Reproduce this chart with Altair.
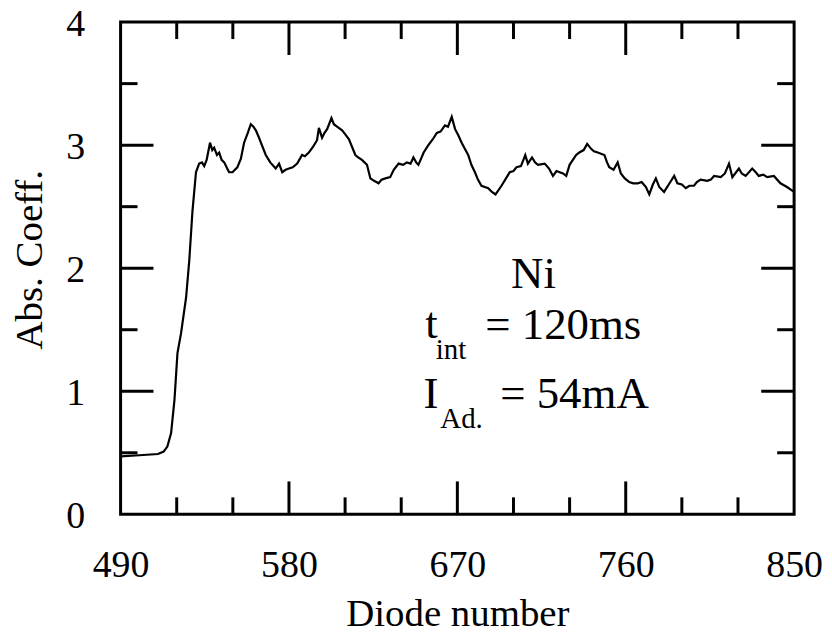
import altair as alt
import pandas as pd

# ---- data ----
diode = [490, 500, 510, 513, 515, 517, 518.8, 520.4, 522.3, 525, 526.7, 528.4, 530.3, 532, 533.5,
         534.7, 536, 537.8, 539, 540, 541.5, 542.7, 544, 545.4, 547, 548, 549.8, 552.4, 554.3, 556,
         558, 559.6, 561, 562.3, 564, 565, 567.6, 570, 572.9, 574.7, 576.4, 578.2, 580, 582, 584.4,
         587, 588.5, 590.6, 593, 595, 596, 597.7, 599, 600.4, 602.7, 604, 605.7, 608.4, 610, 612,
         615.5, 617, 619, 621.7, 623.5, 625.5, 627.9, 629.5, 631.5, 634.1, 636, 638.6, 641, 643, 645,
         646.5, 648, 649.2, 652, 654.5, 657, 659, 661, 663.4, 665, 667, 668.8, 670.5, 672.3, 674,
         675.8, 677.5, 679.4, 681, 682.9, 686.5, 688.5, 690.4, 693.6, 696, 698, 700, 701.6, 704,
         706.3, 707.7, 709.9, 711.5, 713.1, 716.7, 719, 721.1, 723, 724.7, 726.5, 728.2, 730, 733.5,
         735.2, 737.5, 739.4, 741.5, 743, 745, 748.6, 750, 751.2, 753.5, 755.7, 757.4, 759.5, 761.9,
         764, 766.4, 768.5, 770.8, 772.6, 774.5, 776.1, 777.9, 780.5, 783, 785.9, 787.6, 790, 792.1,
         794, 796.5, 798, 800, 803.6, 805.5, 807.2, 810.8, 813, 815.2, 817, 820.5, 822, 824.1, 827.6,
         829.5, 831.1, 833.5, 835.6, 839.2, 842.7, 846.2, 849, 850]
absorb = [0.47, 0.48, 0.49, 0.51, 0.55, 0.66, 0.93, 1.31, 1.47, 1.76, 2.06, 2.46, 2.78, 2.85, 2.86,
          2.83, 2.88, 3.02, 2.96, 2.98, 2.92, 2.94, 2.88, 2.86, 2.81, 2.78, 2.78, 2.82, 2.89, 3.02,
          3.10, 3.17, 3.15, 3.12, 3.06, 3.02, 2.92, 2.86, 2.81, 2.85, 2.78, 2.80, 2.81, 2.82, 2.85,
          2.92, 2.91, 2.94, 2.99, 3.04, 3.14, 3.06, 3.10, 3.13, 3.22, 3.17, 3.15, 3.12, 3.09, 3.05,
          2.92, 2.90, 2.88, 2.84, 2.73, 2.71, 2.69, 2.72, 2.73, 2.74, 2.80, 2.85, 2.84, 2.86, 2.85,
          2.90, 2.86, 2.84, 2.94, 3.00, 3.05, 3.10, 3.11, 3.16, 3.15, 3.23, 3.13, 3.08, 3.02, 2.97,
          2.92, 2.84, 2.78, 2.72, 2.67, 2.65, 2.62, 2.60, 2.67, 2.73, 2.78, 2.79, 2.82, 2.83,
          2.92, 2.85, 2.90, 2.86, 2.84, 2.85, 2.81, 2.75, 2.79, 2.78, 2.77, 2.75, 2.84, 2.92,
          2.94, 2.96, 3.01, 2.97, 2.95, 2.94, 2.92, 2.86, 2.82, 2.80, 2.86, 2.77, 2.73, 2.70,
          2.69, 2.69, 2.70, 2.66, 2.60, 2.68, 2.73, 2.66, 2.62, 2.68, 2.75, 2.69, 2.68, 2.65,
          2.67, 2.67, 2.70, 2.72, 2.71, 2.72, 2.75, 2.74, 2.77, 2.85, 2.74, 2.81, 2.77, 2.75, 2.81,
          2.78, 2.75, 2.76, 2.74, 2.75, 2.69, 2.66, 2.63, 2.62]

x_labels = [490, 580, 670, 760, 850]
y_labels = [0, 1, 2, 3, 4]
x_major = [580, 670, 760]
x_minor = [520, 550, 610, 640, 700, 730, 790, 820]
y_major = [1, 2, 3]
y_minor = [0.5, 1.5, 2.5, 3.5]

big_text = ["Ni", "t", "= 120ms", "I", "= 54mA"]
big_x = [698.7, 652.9, 684.9, 651.9, 692.9]
big_y = [1.84, 1.435, 1.427, 0.863, 0.863]
sub_text = ["int", "Ad."]
sub_x = [658.5, 660.9]
sub_y = [1.266, 0.70]

W, H = 676, 494
FONT = "Liberation Serif"
MAJ, MIN = 33, 17

xs = alt.Scale(domain=[490, 850], nice=False, zero=False)
ys = alt.Scale(domain=[0, 4], nice=False, zero=False)

x_axis = alt.Axis(
    values=x_labels, title="Diode number", domain=False, ticks=False, tickSize=0,
    grid=False, labelFont=FONT, labelFontSize=38, labelColor="black",
    labelPadding=62, labelBaseline="alphabetic", labelFlush=False, labelOverlap=False,
    titleFont=FONT, titleFontSize=39, titleFontWeight="normal", titleColor="black",
    titleBaseline="alphabetic", titleY=112)
y_axis = alt.Axis(
    values=y_labels, title="Abs. Coeff.", domain=False, ticks=False, tickSize=0,
    grid=False, labelFont=FONT, labelFontSize=38, labelColor="black",
    labelPadding=36, labelFlush=False, labelOverlap=False,
    labelBaseline="alphabetic", labelOffset=13,
    titleFont=FONT, titleFontSize=39, titleFontWeight="normal", titleColor="black",
    titleBaseline="alphabetic", titleAngle=270, titleAlign="center",
    titleX=-79, titleY=238)


def X(field):
    return alt.X(field, scale=xs, axis=x_axis, title="Diode number")


def Y(field):
    return alt.Y(field, scale=ys, axis=y_axis, title="Abs. Coeff.")


df = pd.DataFrame({"d": diode, "v": absorb})

line = alt.Chart(df).mark_line(color="black", strokeWidth=2.2).encode(
    x=X("d:Q"), y=Y("v:Q"))


def xticks(vals, length):
    base = alt.Chart(pd.DataFrame({"t": vals})).mark_rule(color="black", strokeWidth=3)
    bottom = base.encode(x=X("t:Q"), y=alt.value(H), y2=alt.value(H - length))
    top = base.encode(x=X("t:Q"), y=alt.value(0), y2=alt.value(length))
    return [bottom, top]


def yticks(vals, length):
    base = alt.Chart(pd.DataFrame({"t": vals})).mark_rule(color="black", strokeWidth=3)
    left = base.encode(y=Y("t:Q"), x=alt.value(0), x2=alt.value(length))
    right = base.encode(y=Y("t:Q"), x=alt.value(W), x2=alt.value(W - length))
    return [left, right]


big = alt.Chart(pd.DataFrame({"x": big_x, "y": big_y, "s": big_text})).mark_text(
    font=FONT, fontSize=45, align="left", baseline="alphabetic", color="black"
).encode(x=X("x:Q"), y=Y("y:Q"), text="s:N")

sub = alt.Chart(pd.DataFrame({"x": sub_x, "y": sub_y, "s": sub_text})).mark_text(
    font=FONT, fontSize=29, align="left", baseline="alphabetic", color="black"
).encode(x=X("x:Q"), y=Y("y:Q"), text="s:N")

layers = [line] + xticks(x_major, MAJ) + xticks(x_minor, MIN) + yticks(y_major, MAJ) + \
    yticks(y_minor, MIN) + [big, sub]

chart = alt.layer(*layers).properties(
    width=W, height=H,
    padding={"left": 113, "top": 13, "right": 30, "bottom": 122},
    autosize="none",
    background="white",
).configure_view(stroke="black", strokeWidth=3)

chart.save("out.html", embed_options={"renderer": "svg", "actions": False})
